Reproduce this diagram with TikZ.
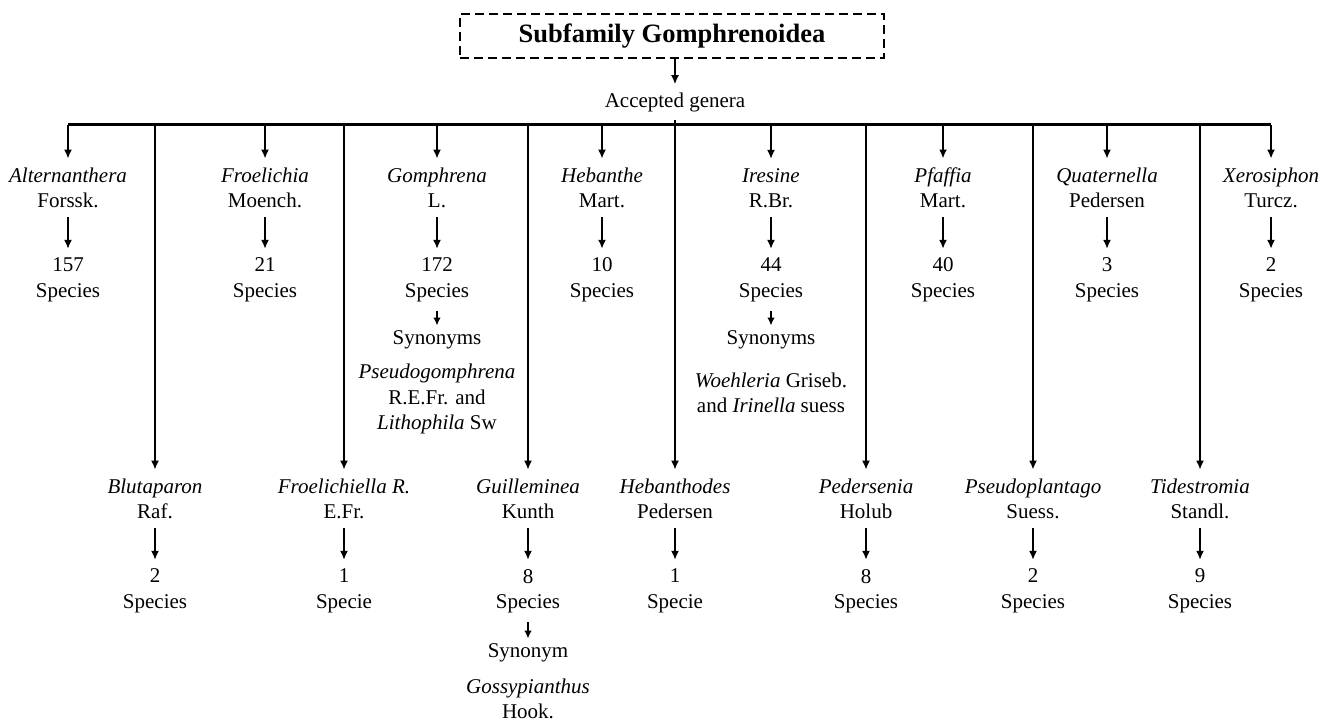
\documentclass[tikz,border=0pt]{standalone}
\usepackage{fontspec}
\setmainfont{Liberation Serif}
\usetikzlibrary{arrows.meta}
\begin{document}
\begin{tikzpicture}[x=1pt,y=-1pt,
  font=\fontsize{21}{25.5}\selectfont,
  lbl/.style={align=center, inner xsep=2pt, inner ysep=9pt},
  syn/.style={align=center, inner xsep=2pt, inner ysep=5pt},
  arr/.style={-{Latex[length=9pt,width=8pt]}, line width=2pt},
  small/.style={-{Latex[length=8pt,width=7.5pt]}, line width=1.8pt},
  barline/.style={line width=3pt},
  titlebox/.style={draw, dashed, dash pattern=on 9pt off 5pt, line width=1.8pt,
    minimum width=424pt, minimum height=44pt, inner sep=0pt,
    font=\fontsize{26.5}{30}\selectfont\bfseries}]
\useasboundingbox (0,0) rectangle (1321,722);

% title
\node[titlebox] (title) at (672,36) {Subfamily Gomphrenoidea};
\node[lbl, inner ysep=8pt] (acc) at (675,102) {Accepted genera};
\draw[arr] (acc|-title.south) -- (acc);

% bar
\coordinate (bl) at (68,125);
\coordinate (br) at (1271,125);
\draw[barline] (bl) -- (br);

% top row genera
\node[lbl] (t1) at (68,188) {\textit{Alternanthera}\\Forssk.};
\node[lbl] (t2) at (265,188) {\textit{Froelichia}\\Moench.};
\node[lbl] (t3) at (437,188) {\textit{Gomphrena}\\L.};
\node[lbl] (t4) at (602,188) {\textit{Hebanthe}\\Mart.};
\node[lbl] (t5) at (771,188) {\textit{Iresine}\\R.Br.};
\node[lbl] (t6) at (943,188) {\textit{Pfaffia}\\Mart.};
\node[lbl] (t7) at (1107,188) {\textit{Quaternella}\\Pedersen};
\node[lbl] (t8) at (1271,188) {\textit{Xerosiphon}\\Turcz.};

% top row counts
\node[lbl] (c1) at (68,280) {157\\Species};
\node[lbl] (c2) at (265,280) {21\\Species};
\node[lbl] (c3) at (437,280) {172\\Species};
\node[lbl] (c4) at (602,280) {10\\Species};
\node[lbl] (c5) at (771,280) {44\\Species};
\node[lbl] (c6) at (943,280) {40\\Species};
\node[lbl] (c7) at (1107,280) {3\\Species};
\node[lbl] (c8) at (1271,280) {2\\Species};

\foreach \i in {1,...,8}{
  \draw[arr] (t\i|-bl) -- (t\i);
  \draw[arr] (t\i) -- (c\i);
}

% synonyms of top row
\node[syn] (s3) at (437,340) {Synonyms};
\node[align=center] (n3) at (437,399) {\textit{Pseudogomphrena}\\R.E.Fr. and\\\textit{Lithophila} Sw};
\draw[small] (c3) -- (s3);
\node[syn] (s5) at (771,340) {Synonyms};
\node[align=center] (n5) at (771,393) {\textit{Woehleria} Griseb.\\and \textit{Irinella} suess};
\draw[small] (c5) -- (s5);

% bottom row genera
\node[lbl] (u1) at (155,499) {\textit{Blutaparon}\\Raf.};
\node[lbl] (u2) at (344,499) {\textit{Froelichiella R.}\\E.Fr.};
\node[lbl] (u3) at (528,499) {\textit{Guilleminea}\\Kunth};
\node[lbl] (u4) at (675,499) {\textit{Hebanthodes}\\Pedersen};
\node[lbl] (u5) at (866,499) {\textit{Pedersenia}\\Holub};
\node[lbl] (u6) at (1033,499) {\textit{Pseudoplantago}\\Suess.};
\node[lbl] (u7) at (1200,499) {\textit{Tidestromia}\\Standl.};

% bottom row counts
\node[lbl] (d1) at (155,591) {2\\Species};
\node[lbl] (d2) at (344,591) {1\\Specie};
\node[lbl] (d3) at (528,591) {8\\Species};
\node[lbl] (d4) at (675,591) {1\\Specie};
\node[lbl] (d5) at (866,591) {8\\Species};
\node[lbl] (d6) at (1033,591) {2\\Species};
\node[lbl] (d7) at (1200,591) {9\\Species};

\foreach \i in {1,2,3,5,6,7}{
  \draw[arr] (u\i|-bl) -- (u\i);
}
\draw[arr] (acc) -- (u4);
\foreach \i in {1,...,7}{
  \draw[arr] (u\i) -- (d\i);
}

% synonym of Guilleminea
\node[syn] (s9) at (528,653) {Synonym};
\node[align=center, inner sep=0pt] (n9) at (528,699) {\textit{Gossypianthus}\\Hook.};
\draw[small] (d3) -- (s9);
\end{tikzpicture}
\end{document}
